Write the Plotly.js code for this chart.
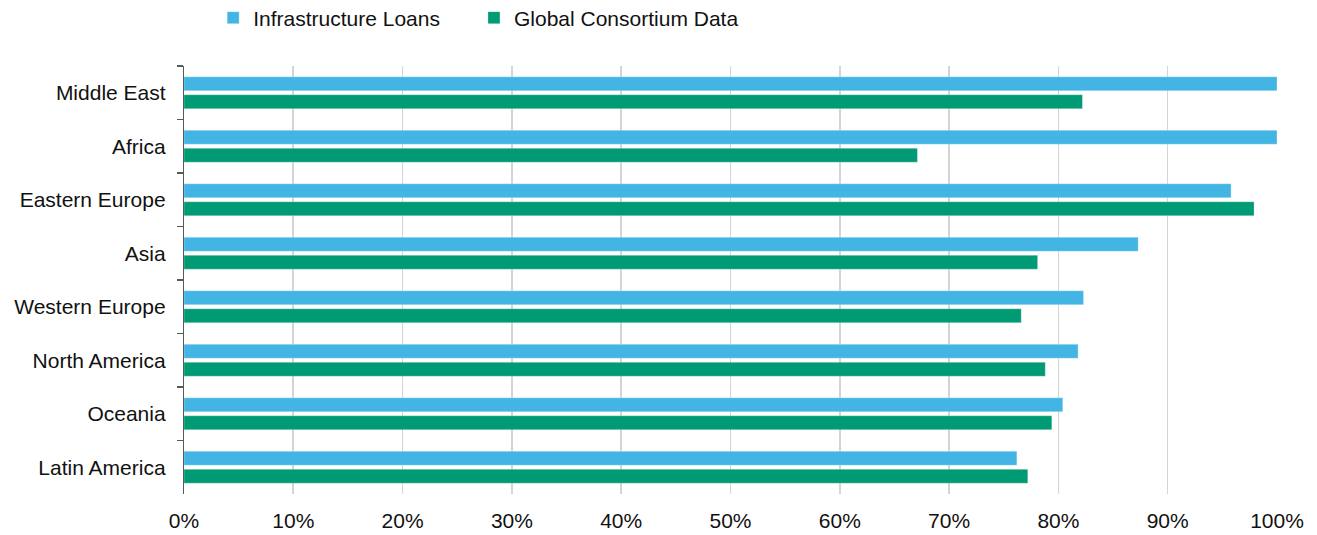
<!DOCTYPE html>
<html>
<head>
<meta charset="utf-8">
<script src="https://cdn.plot.ly/plotly-3.0.1.min.js"></script>
<style>html,body{margin:0;padding:0;background:#fff;}#chart{width:1317px;height:535px;}</style>
</head>
<body>
<div id="chart"></div>
<script>
const regions = ["Middle East", "Africa", "Eastern Europe", "Asia", "Western Europe", "North America", "Oceania", "Latin America"];
const infrastructureLoans = [100, 100, 95.8, 87.3, 82.3, 81.8, 80.4, 76.2];
const globalConsortium = [82.2, 67.1, 97.9, 78.1, 76.6, 78.8, 79.4, 77.2];
const xTicks = [0, 10, 20, 30, 40, 50, 60, 70, 80, 90, 100];
const xTickLabels = xTicks.map(v => v + "%");

const FONT = "Liberation Sans, Arial, sans-serif";

const traces = [
  {
    type: "bar", orientation: "h", name: "Infrastructure Loans",
    y: regions, x: infrastructureLoans, legend: "legend",
    marker: {color: "#43B5E5", line: {color: "rgba(255,255,255,0.5)", width: 0.6}},
    hoverinfo: "skip"
  },
  {
    type: "bar", orientation: "h", name: "Global Consortium Data",
    y: regions, x: globalConsortium, legend: "legend2",
    marker: {color: "#009A74", line: {color: "rgba(255,255,255,0.5)", width: 0.6}},
    hoverinfo: "skip"
  }
];

const legendBase = {
  orientation: "h", xanchor: "left", y: 1 - 18 / 535, yanchor: "middle",
  yref: "container",
  font: {family: FONT, size: 21, color: "#111"},
  itemclick: false, itemdoubleclick: false, bgcolor: "rgba(0,0,0,0)"
};

const layout = {
  width: 1317, height: 535,
  margin: {l: 184, r: 40, t: 66, b: 41, pad: 0},
  paper_bgcolor: "#fff", plot_bgcolor: "#fff",
  font: {family: FONT, size: 21, color: "#111"},
  barmode: "group",
  bargap: 0.327,
  bargroupgap: 0.222,
  showlegend: true,
  legend: Object.assign({}, legendBase, {x: 0.0267}),
  legend2: Object.assign({}, legendBase, {x: 0.2653}),
  xaxis: {
    range: [0, 100], tickvals: xTicks, ticktext: xTickLabels,
    showgrid: true, gridcolor: "#d4d4d4", gridwidth: 1.6,
    zeroline: false, showline: false, ticks: "",
    ticklabelstandoff: 12,
    tickfont: {family: FONT, size: 21, color: "#111"},
    fixedrange: true
  },
  yaxis: {
    type: "category", autorange: "reversed",
    showgrid: false, zeroline: false,
    showline: true, linecolor: "#595959", linewidth: 1.2,
    ticks: "outside", tickson: "boundaries", ticklen: 6, tickcolor: "#595959", tickwidth: 1.2,
    ticklabelstandoff: 13,
    tickfont: {family: FONT, size: 21, color: "#111"},
    fixedrange: true
  }
};

Plotly.newPlot("chart", traces, layout, {displayModeBar: false, staticPlot: true});
</script>
</body>
</html>
